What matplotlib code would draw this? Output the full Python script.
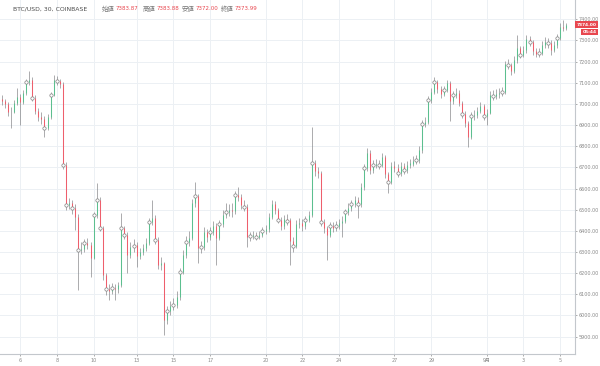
import numpy as np
import pandas as pd
import matplotlib
matplotlib.use('Agg')
import matplotlib.pyplot as plt

# BTC/USD candles (one candle per 4 hours)
closes = [7013, 6999, 6961, 6961, 7004, 7032, 7009, 7051, 7103, 7113,
          7028, 6966, 6938, 6929, 6886, 6938, 7042, 7113, 7108, 7094,
          6711, 6522, 6531, 6508, 6466, 6310, 6314, 6343, 6333, 6272,
          6475, 6546, 6413, 6191, 6125, 6118, 6130, 6125, 6144, 6413,
          6381, 6286, 6324, 6330, 6281, 6300, 6319, 6343, 6442, 6461,
          6357, 6239, 6246, 5979, 6021, 6045, 6050, 6088, 6206, 6286,
          6347, 6366, 6531, 6565, 6319, 6324, 6395, 6371, 6395, 6423,
          6366, 6432, 6475, 6489, 6499, 6492, 6569, 6560, 6522, 6513,
          6371, 6378, 6381, 6371, 6381, 6400, 6409, 6466, 6527, 6499,
          6451, 6423, 6456, 6448, 6352, 6329, 6432, 6437, 6423, 6451,
          6475, 6720, 6683, 6673, 6442, 6413, 6381, 6423, 6413, 6423,
          6437, 6447, 6489, 6508, 6527, 6546, 6527, 6607, 6697, 6768,
          6687, 6711, 6716, 6711, 6749, 6668, 6631, 6706, 6697, 6673,
          6706, 6687, 6711, 6718, 6730, 6735, 6782, 6904, 6914, 7018,
          7056, 7103, 7070, 7046, 7065, 7098, 7013, 7042, 7051, 7004,
          6952, 6909, 6845, 6943, 6947, 6966, 6990, 6943, 6957, 7042,
          7038, 7046, 7051, 7055, 7188, 7183, 7155, 7207, 7264, 7231,
          7254, 7306, 7292, 7249, 7235, 7240, 7278, 7292, 7287, 7254,
          7278, 7311, 7363, 7358, 7374]
highs = [7040, 7025, 7010, 6985, 7020, 7075, 7045, 7065, 7120, 7157,
         7125, 7040, 6980, 6960, 6945, 6950, 7055, 7136, 7130, 7120,
         7105, 6725, 6555, 6545, 6525, 6480, 6345, 6360, 6365, 6345,
         6490, 6625, 6560, 6425, 6200, 6150, 6155, 6150, 6160, 6484,
         6425, 6395, 6345, 6360, 6345, 6320, 6340, 6365, 6460, 6546,
         6475, 6370, 6275, 6255, 6045, 6070, 6085, 6115, 6225, 6310,
         6375, 6400, 6550, 6630, 6575, 6350, 6420, 6410, 6420, 6445,
         6435, 6450, 6500, 6530, 6525, 6530, 6590, 6609, 6575, 6545,
         6525, 6395, 6400, 6395, 6400, 6420, 6430, 6485, 6546, 6540,
         6510, 6465, 6475, 6480, 6460, 6370, 6450, 6460, 6455, 6470,
         6495, 6890, 6735, 6700, 6685, 6455, 6425, 6440, 6440, 6445,
         6455, 6470, 6505, 6530, 6545, 6565, 6560, 6625, 6715, 6792,
         6780, 6735, 6740, 6735, 6770, 6760, 6680, 6725, 6730, 6715,
         6725, 6720, 6730, 6740, 6755, 6760, 6800, 6925, 6940, 7035,
         7075, 7127, 7115, 7085, 7085, 7115, 7110, 7060, 7075, 7065,
         7015, 6965, 6920, 6960, 6970, 6985, 7010, 7000, 6975, 7060,
         7065, 7070, 7075, 7080, 7205, 7210, 7195, 7225, 7325, 7275,
         7275, 7325, 7320, 7300, 7265, 7265, 7295, 7315, 7310, 7300,
         7295, 7330, 7380, 7395, 7384]
lows = [6995, 6980, 6945, 6886, 6955, 6995, 6900, 6998, 7040, 7090,
        7015, 6950, 6920, 6905, 6843, 6875, 6930, 7035, 7090, 7075,
        6690, 6500, 6505, 6480, 6404, 6121, 6290, 6300, 6315, 6182,
        6265, 6460, 6400, 6170, 6095, 6073, 6100, 6075, 6105, 6135,
        6360, 6201, 6270, 6300, 6229, 6265, 6285, 6305, 6335, 6430,
        6340, 6220, 6215, 5908, 5960, 6000, 6025, 6035, 6075, 6195,
        6270, 6330, 6355, 6515, 6248, 6295, 6310, 6345, 6355, 6380,
        6239, 6355, 6420, 6460, 6470, 6465, 6480, 6540, 6505, 6495,
        6324, 6350, 6360, 6355, 6360, 6370, 6385, 6395, 6455, 6480,
        6435, 6405, 6410, 6430, 6239, 6300, 6320, 6415, 6400, 6410,
        6440, 6465, 6660, 6650, 6425, 6390, 6262, 6370, 6395, 6400,
        6410, 6371, 6435, 6475, 6495, 6515, 6461, 6515, 6595, 6685,
        6670, 6675, 6695, 6690, 6700, 6650, 6579, 6620, 6680, 6655,
        6660, 6670, 6675, 6695, 6705, 6715, 6720, 6770, 6890, 6905,
        7005, 7045, 7050, 7030, 7035, 7055, 6919, 7000, 7030, 6990,
        6935, 6890, 6796, 6835, 6925, 6935, 6955, 6925, 6900, 6950,
        7020, 7025, 7030, 7035, 7045, 7165, 7136, 7145, 7195, 7215,
        7220, 7240, 7275, 7230, 7220, 7220, 7230, 7265, 7265, 7231,
        7245, 7265, 7300, 7345, 7350]
first_open = 7020
marker_bars = [8, 10, 14, 16, 18, 20, 21, 23, 25, 27, 30, 31, 32, 34, 36, 39, 40,
               43, 48, 50, 54, 56, 58, 60, 63, 65, 68, 71, 73, 76, 79, 81, 83, 85,
               90, 93, 95, 99, 101, 104, 107, 109, 112, 114, 116, 118, 121, 123,
               126, 129, 131, 135, 137, 139, 141, 144, 147, 150, 153, 157, 160,
               163, 165, 169, 172, 175, 178, 181]

day_ticks = ['2018-08-06', '2018-08-08', '2018-08-10', '2018-08-13', '2018-08-15',
             '2018-08-17', '2018-08-20', '2018-08-22', '2018-08-24', '2018-08-27',
             '2018-08-29', '2018-09-01', '2018-09-03', '2018-09-05']
day_labels = ['6', '8', '10', '13', '15', '17', '20', '22', '24', '27', '29', '9月', '3', '5']
price_ticks = [5900, 6000, 6100, 6200, 6300, 6400, 6500, 6600, 6700, 6800,
               6900, 7000, 7100, 7200, 7300, 7400]

# bar times, with the missing stretch on Aug 11 dropped (bars are placed by index)
times = pd.date_range('2018-08-05', periods=189, freq='4h')
times = times[(times < '2018-08-11 12:00') | (times > '2018-08-12 00:00')]

closes = np.array(closes)
opens = np.concatenate([[first_open], closes[:-1]])
x = np.arange(len(closes))
up = closes >= opens

plt.rcParams['font.family'] = ['DejaVu Sans', 'Noto Sans CJK JP']

fig = plt.figure(figsize=(6, 3.66), dpi=100)
ax = fig.add_axes([0, 12 / 366, 575 / 600, 354 / 366])

ax.vlines(x, lows, highs, color='#7d7d80', lw=0.45, zorder=2)
lo_body = np.minimum(opens, closes)
hi_body = np.maximum(opens, closes) + 1
ax.vlines(x, lo_body, hi_body, colors=np.where(up, '#5cbf8f', '#ee5f6c'), lw=0.75, zorder=3)
ax.plot(x[marker_bars], closes[marker_bars], 'o', ms=2.4, mfc='white', mec='#808080',
        mew=0.5, zorder=4)

ax.set_xlim(-0.49, 186.8)
ax.set_ylim(5818, 7491)

tick_pos = [int(np.where(times == pd.Timestamp(d))[0][0]) for d in day_ticks]
ax.set_xticks(tick_pos)
ax.set_xticklabels(day_labels)
ax.set_yticks(price_ticks)
ax.set_yticklabels(['%.2f' % p for p in price_ticks])
ax.yaxis.tick_right()
ax.tick_params(axis='both', labelsize=3.5, colors='#8a8a8a', length=1.5, width=0.5, pad=1.2)
ax.grid(True, color='#ecf0f4', lw=0.7)
ax.set_axisbelow(True)
for s in ['top', 'left']:
    ax.spines[s].set_visible(False)
for s in ['right', 'bottom']:
    ax.spines[s].set_color('#c3c7cc')
    ax.spines[s].set_linewidth(0.8)

# last price tags, right-aligned to the picture edge
ytf = ax.get_yaxis_transform()
ax.annotate('%.2f' % closes[-1], xy=(1.0, closes[-1]), xycoords=ytf,
            xytext=(15.5, 0), textcoords='offset points', va='center', ha='right',
            fontsize=3.2, color='white', fontweight='bold',
            bbox=dict(boxstyle='square,pad=0.3', fc='#e8474f', ec='none'))
ax.annotate('05:44', xy=(1.0, closes[-1]), xycoords=ytf,
            xytext=(15.5, -5.3), textcoords='offset points', va='center', ha='right',
            fontsize=3.2, color='white', fontweight='bold',
            bbox=dict(boxstyle='square,pad=0.3', fc='#e8474f', ec='none'))

# header
y_h = 1 - 9 / 366
fig.text(13 / 600, y_h, 'BTC/USD, 30, COINBASE', fontsize=4.4, color='#4d4d4d', va='center')
head = [('始値', '7383.87', 102), ('高値', '7383.88', 143), ('安値', '7372.00', 182),
        ('終値', '7373.99', 221)]
for name, val, px in head:
    fig.text(px / 600, y_h, name, fontsize=4.6, color='#777777', va='center')
    fig.text((px + 14) / 600, y_h, val, fontsize=4.0, color='#e8474f', va='center')

fig.savefig('out.png', dpi=100)
